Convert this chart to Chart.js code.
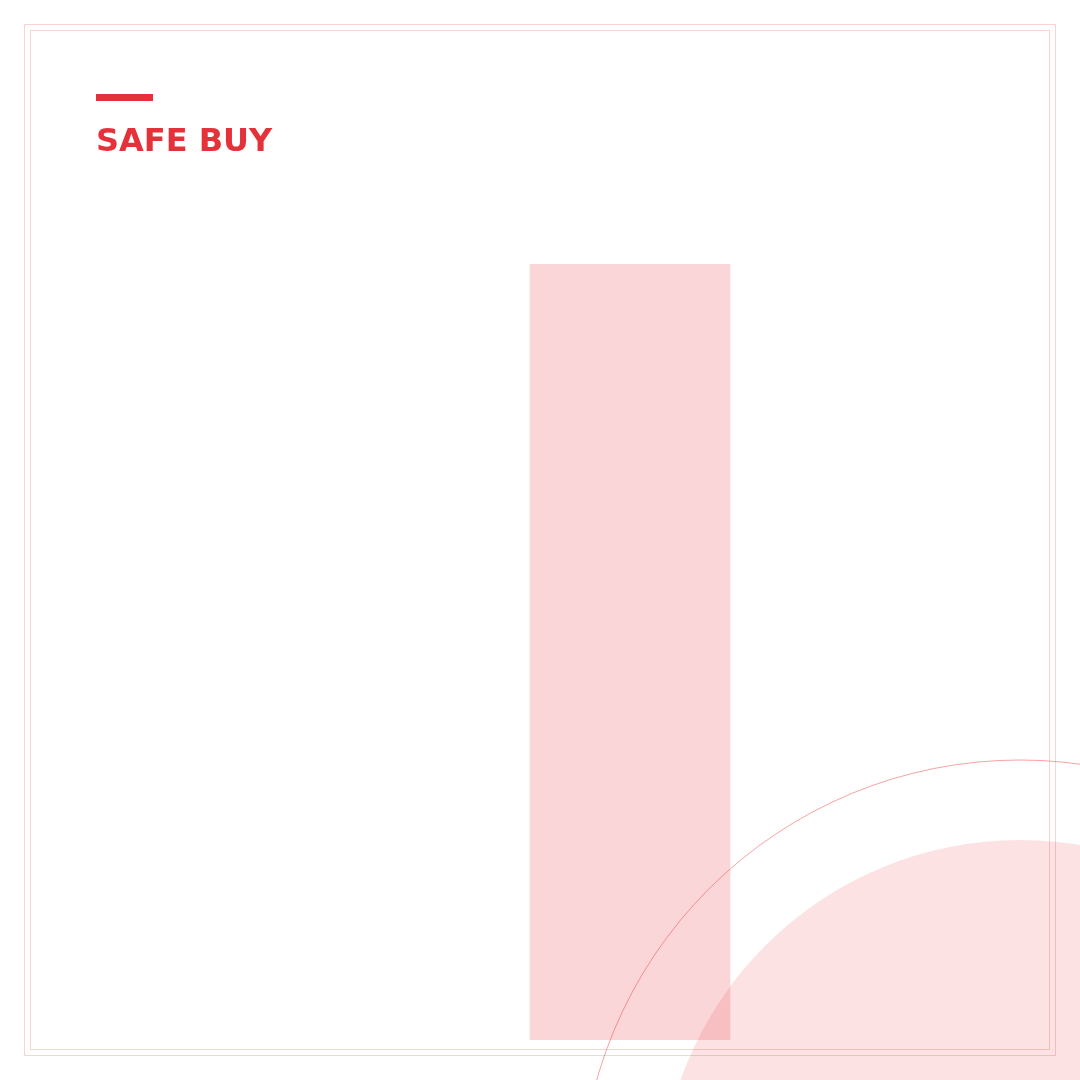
<!DOCTYPE html>
<html>
<head>
<meta charset="utf-8">
<script src="https://cdn.jsdelivr.net/npm/chart.js@4/dist/chart.umd.min.js"></script>
<style>
  html, body { margin: 0; padding: 0; background: #fff; }
  canvas { display: block; }
</style>
</head>
<body>
<canvas id="chart" width="1080" height="1080"></canvas>
<script>
const categories = ['SAFE BUY']
const values = [100]
const yTicks = [0, 100]

const title = 'SAFE BUY'
const red = '#e5323a'

// frame, accent bar, title and the two background circles
const decor = {
  id: 'decor',
  beforeDatasetsDraw(chart) {
    const { ctx } = chart
    ctx.save()
    ctx.fillStyle = 'rgba(232, 52, 58, 0.14)'
    ctx.beginPath()
    ctx.arc(1020, 1200, 360, 0, Math.PI * 2)
    ctx.fill()
    ctx.restore()
  },
  afterDatasetsDraw(chart) {
    const { ctx } = chart
    ctx.save()
    ctx.strokeStyle = 'rgba(232, 52, 58, 0.45)'
    ctx.lineWidth = 1
    ctx.beginPath()
    ctx.arc(1020, 1200, 440, 0, Math.PI * 2)
    ctx.stroke()

    ctx.strokeStyle = 'rgba(232, 52, 58, 0.22)'
    ctx.strokeRect(24.5, 24.5, 1031, 1031)
    ctx.strokeRect(30.5, 30.5, 1019, 1019)

    ctx.fillStyle = red
    ctx.fillRect(96, 94, 57, 7)
    ctx.font = 'bold 32px "DejaVu Sans"'
    ctx.textBaseline = 'alphabetic'
    ctx.fillText(title, 96, 151)
    ctx.restore()
  },
}

new Chart(document.getElementById('chart'), {
  type: 'bar',
  data: {
    labels: categories,
    datasets: [{
      data: values,
      backgroundColor: 'rgba(232, 52, 58, 0.2)',
      borderWidth: 0,
      barThickness: 200,
    }],
  },
  options: {
    responsive: false,
    animation: false,
    devicePixelRatio: 1,
    layout: {
      padding: { left: 180, right: 0, top: 264, bottom: 40 },
    },
    scales: {
      x: { display: false },
      y: {
        display: false,
        min: yTicks[0],
        max: yTicks[yTicks.length - 1],
      },
    },
    plugins: {
      legend: { display: false },
      tooltip: { enabled: false },
    },
  },
  plugins: [decor],
})
</script>
</body>
</html>
